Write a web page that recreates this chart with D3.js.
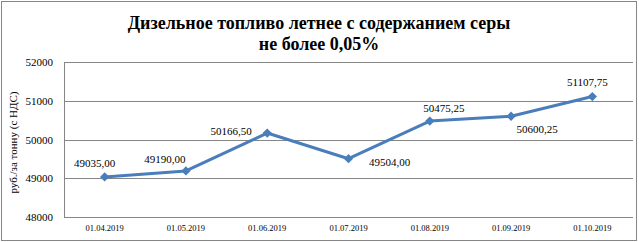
<!DOCTYPE html>
<html>
<head>
<meta charset="utf-8">
<script src="https://cdn.jsdelivr.net/npm/d3@7"></script>
<style>
  body { margin: 0; background: #fff; }
  text { font-family: "Liberation Serif", "Times New Roman", serif; fill: #000; }
</style>
</head>
<body>
<svg id="chart" width="639" height="242"></svg>
<script>
const dates = ["01.04.2019", "01.05.2019", "01.06.2019", "01.07.2019", "01.08.2019", "01.09.2019", "01.10.2019"];
const prices = [49035.00, 49190.00, 50166.50, 49504.00, 50475.25, 50600.25, 51107.75];
const yTicks = [48000, 49000, 50000, 51000, 52000];
const titleLines = ["Дизельное топливо летнее с содержанием серы", "не более 0,05%"];
const yLabel = "руб./за тонну (с НДС)";

// label placement around each point (Excel-like), kept apart from the data
const labelPos = [
  { dx: -10, dy: -10 },
  { dx: -21, dy: -8 },
  { dx: -36, dy: 2 },
  { dx: 41, dy: 7 },
  { dx: 14, dy: -9 },
  { dx: 26, dy: 17 },
  { dx: -5, dy: -11 }
];

const svg = d3.select("#chart");
const W = 639, H = 242;
const plot = { left: 64, right: 633, top: 62, bottom: 217 };

// outer border
svg.append("rect")
  .attr("x", 1.5).attr("y", 1.5)
  .attr("width", W - 4).attr("height", H - 3)
  .attr("fill", "#fff")
  .attr("stroke", "#868686")
  .attr("stroke-width", 1);

const x = d3.scaleBand()
  .domain(dates)
  .range([plot.left, plot.right]);

const y = d3.scaleLinear()
  .domain([48000, 52000])
  .range([plot.bottom, plot.top]);

// gridlines
svg.append("g")
  .selectAll("line")
  .data(yTicks)
  .enter()
  .append("line")
  .attr("x1", plot.left)
  .attr("x2", plot.right)
  .attr("y1", d => Math.round(y(d)) + 0.5)
  .attr("y2", d => Math.round(y(d)) + 0.5)
  .attr("stroke", "#868686")
  .attr("stroke-width", 1);

// y axis line
svg.append("line")
  .attr("x1", plot.left + 0.5).attr("x2", plot.left + 0.5)
  .attr("y1", plot.top).attr("y2", plot.bottom + 1)
  .attr("stroke", "#868686");

// y tick labels
svg.append("g")
  .selectAll("text")
  .data(yTicks)
  .enter()
  .append("text")
  .attr("x", 53)
  .attr("y", d => y(d) + 4)
  .attr("text-anchor", "end")
  .attr("font-size", "11px")
  .text(d => d);

// x tick labels
svg.append("g")
  .selectAll("text")
  .data(dates)
  .enter()
  .append("text")
  .attr("x", d => x(d) + x.bandwidth() / 2)
  .attr("y", 231)
  .attr("text-anchor", "middle")
  .attr("font-size", "8.5px")
  .text(d => d);

// y axis title
svg.append("text")
  .attr("transform", "translate(17," + ((plot.top + plot.bottom) / 2 + 3) + ") rotate(-90)")
  .attr("text-anchor", "middle")
  .attr("font-size", "11px")
  .text(yLabel);

// chart title
svg.append("g")
  .selectAll("text")
  .data(titleLines)
  .enter()
  .append("text")
  .attr("x", 319)
  .attr("y", (d, i) => 29 + i * 21)
  .attr("text-anchor", "middle")
  .attr("font-size", "18px")
  .attr("font-weight", "bold")
  .text(d => d);

const pts = dates.map((d, i) => [x(d) + x.bandwidth() / 2, y(prices[i])]);

const line = d3.line();

svg.append("path")
  .attr("d", line(pts))
  .attr("fill", "none")
  .attr("stroke", "#4a7ebb")
  .attr("stroke-width", 3)
  .attr("stroke-linejoin", "round");

svg.append("g")
  .selectAll("path")
  .data(pts)
  .enter()
  .append("path")
  .attr("d", d3.symbol().type(d3.symbolDiamond2).size(55))
  .attr("transform", d => "translate(" + d[0] + "," + d[1] + ")")
  .attr("fill", "#4a7ebb");

const fmt = v => v.toFixed(2).replace(".", ",");

svg.append("g")
  .selectAll("text")
  .data(pts)
  .enter()
  .append("text")
  .attr("x", (d, i) => d[0] + labelPos[i].dx)
  .attr("y", (d, i) => d[1] + labelPos[i].dy)
  .attr("text-anchor", "middle")
  .attr("font-size", "11px")
  .text((d, i) => fmt(prices[i]));
</script>
</body>
</html>
